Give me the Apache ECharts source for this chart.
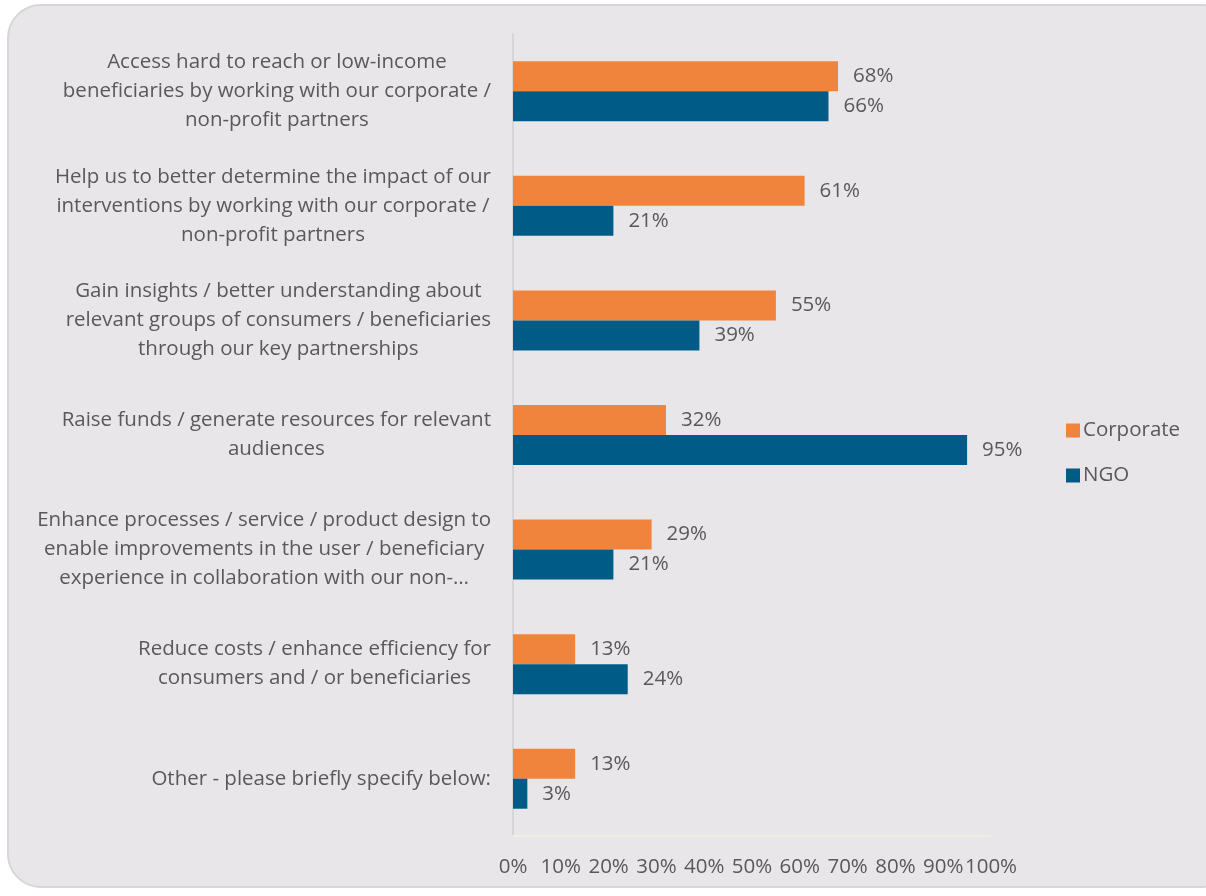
<!DOCTYPE html>
<html>
<head>
<meta charset="utf-8">
<script src="https://cdn.jsdelivr.net/npm/echarts@6/dist/echarts.min.js"></script>
<style>
  html, body { margin: 0; padding: 0; background: #ffffff; }
  #panel {
    position: absolute; left: 7px; top: 4px; width: 1230px; height: 884px;
    background: #e8e6e9; border: 2px solid #d6d6d8; border-radius: 34px;
    box-sizing: border-box;
  }
  #chart { position: absolute; left: 0; top: 0; width: 1206px; height: 896px; }
</style>
</head>
<body>
<div id="panel"></div>
<div id="chart"></div>
<script>
// Survey answers (multi-line category labels)
const categories = [
  'Access hard to reach or low-income\nbeneficiaries by working with our corporate /\nnon-profit partners',
  'Help us to better determine the impact of our\ninterventions by working with our corporate /\nnon-profit partners',
  'Gain insights / better understanding about\nrelevant groups of consumers / beneficiaries\nthrough our key partnerships',
  'Raise funds / generate resources for relevant\naudiences',
  'Enhance processes / service / product design to\nenable improvements in the user / beneficiary\nexperience in collaboration with our non-\u2026',
  'Reduce costs / enhance efficiency for\nconsumers and / or beneficiaries',
  'Other - please briefly specify below:'
];
const corporate = [68, 61, 55, 32, 29, 13, 13];
const ngo = [66, 21, 39, 95, 21, 24, 3];
const xTicks = [0, 10, 20, 30, 40, 50, 60, 70, 80, 90, 100];

const FONT = 'Open Sans';
const TEXT = '#595959';
const SIZE = 20.5;

const chart = echarts.init(document.getElementById('chart'), null, { renderer: 'canvas' });

const labelStyle = {
  show: true,
  position: 'right',
  distance: 15,
  formatter: p => p.value + '%',
  color: TEXT,
  fontFamily: FONT,
  fontSize: SIZE
};

chart.setOption({
  backgroundColor: 'transparent',
  animation: false,
  grid: { left: 513, top: 34, width: 478, height: 802 },
  legend: {
    orient: 'vertical',
    left: 1061,
    top: 415,
    itemWidth: 14,
    itemHeight: 14,
    itemGap: 24,
    icon: 'rect',
    textStyle: { color: TEXT, fontFamily: FONT, fontSize: SIZE, padding: [0, 0, 0, -2] },
    data: ['Corporate', 'NGO']
  },
  xAxis: {
    type: 'value',
    min: xTicks[0],
    max: xTicks[xTicks.length - 1],
    interval: xTicks[1] - xTicks[0],
    axisLine: { show: true, lineStyle: { color: '#efeee2', width: 2 } },
    axisTick: { show: false },
    splitLine: { show: false },
    axisLabel: {
      formatter: '{value}%',
      color: TEXT,
      fontFamily: FONT,
      fontSize: SIZE,
      margin: 21
    }
  },
  yAxis: {
    type: 'category',
    inverse: true,
    data: categories,
    axisLine: { show: true, lineStyle: { color: '#d6d6d8', width: 2 } },
    axisTick: { show: false },
    axisLabel: {
      align: 'right',
      margin: 22,
      formatter: v => v.split('\n').map(l => '{c|' + l + '}').join('\n'),
      rich: {
        c: { align: 'center', color: TEXT, fontFamily: FONT, fontSize: SIZE, lineHeight: 29 }
      }
    }
  },
  series: [
    {
      name: 'Corporate',
      type: 'bar',
      data: corporate,
      barWidth: 30,
      barGap: '0%',
      itemStyle: { color: '#f0843c' },
      label: labelStyle
    },
    {
      name: 'NGO',
      type: 'bar',
      data: ngo,
      barWidth: 30,
      barGap: '0%',
      itemStyle: { color: '#015b87' },
      label: labelStyle
    }
  ]
});
</script>
</body>
</html>
